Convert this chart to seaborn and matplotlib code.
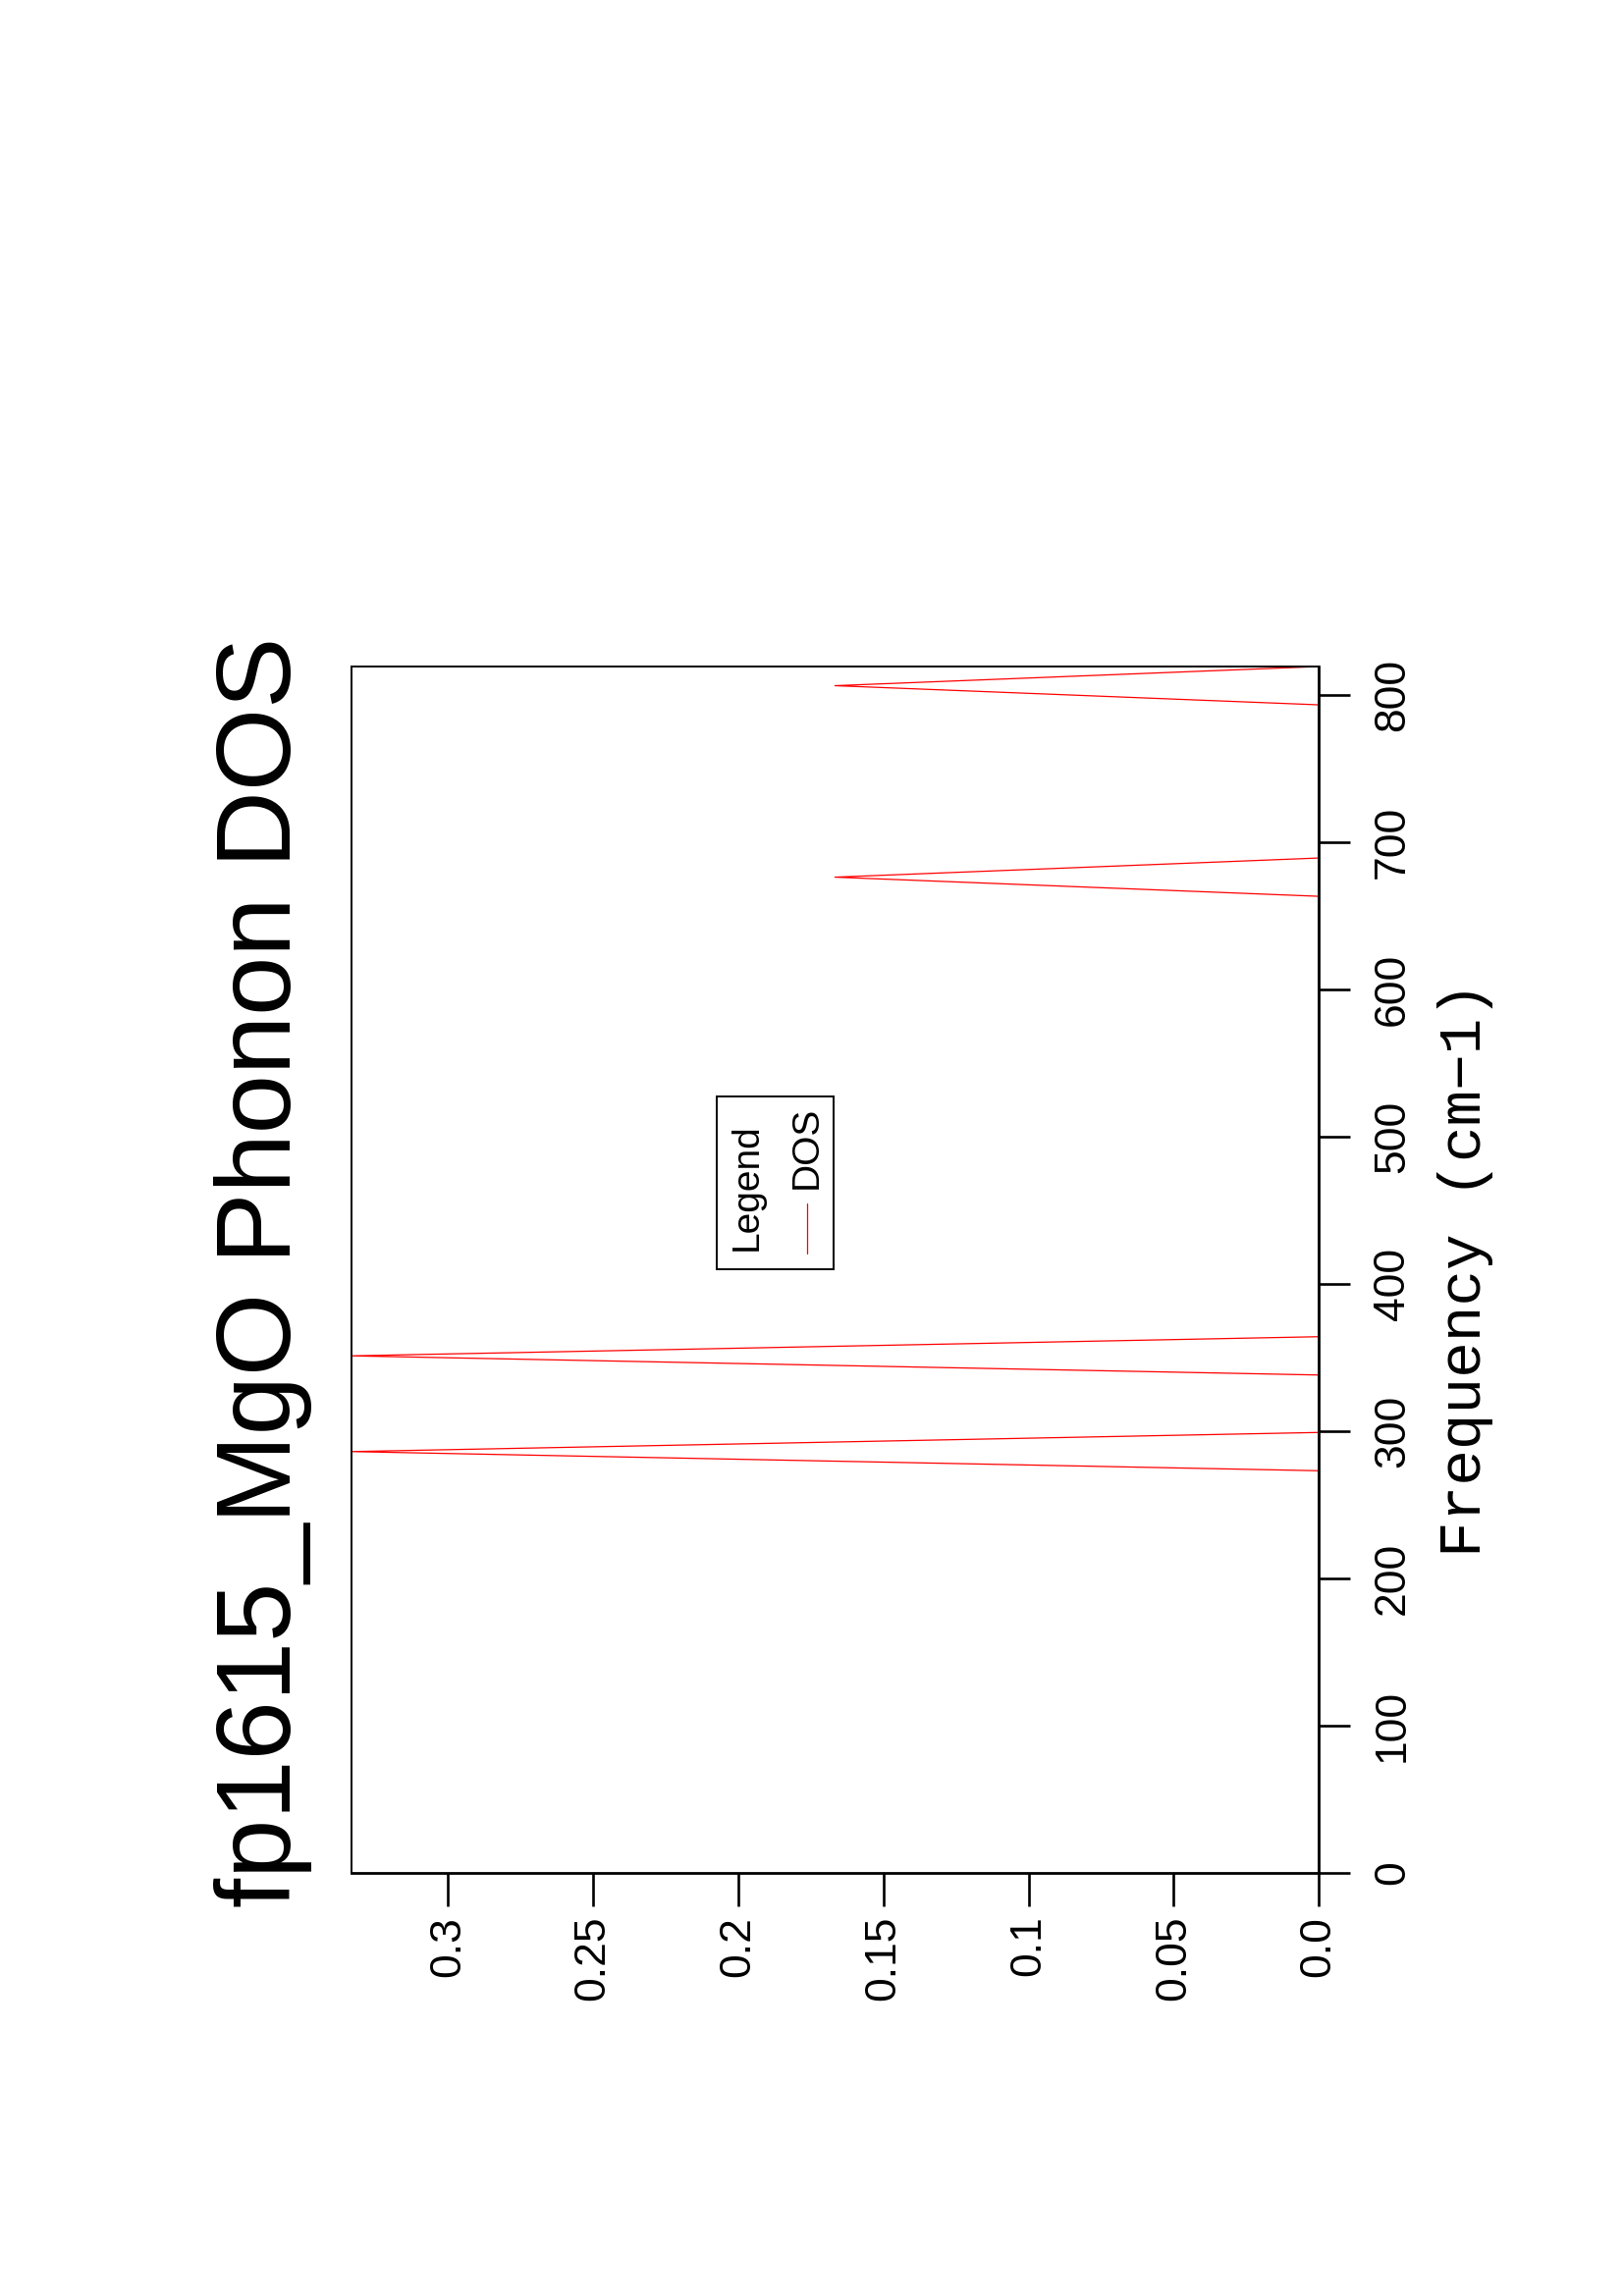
import matplotlib
matplotlib.use('Agg')
import matplotlib.pyplot as plt
from matplotlib.patches import Rectangle
from matplotlib.lines import Line2D
import seaborn as sns
import pandas as pd

sns.set_style("ticks")
plt.rcParams['font.family'] = ['Liberation Sans', 'DejaVu Sans']
for key in ['text.color', 'axes.labelcolor', 'xtick.color', 'ytick.color', 'axes.edgecolor']:
    plt.rcParams[key] = 'black'

# ── Data ────────────────────────────────────────────────────────────────────
freq = [0, 273, 286, 299, 338, 351, 364, 663, 676, 689, 793, 806, 819]
dos = [0, 0, 0.3333, 0, 0, 0.3333, 0, 0, 0.1667, 0, 0, 0.1667, 0]

dos_ticks = [0.0, 0.05, 0.1, 0.15, 0.2, 0.25, 0.3]
dos_labels = ["0.0", "0.05", "0.1", "0.15", "0.2", "0.25", "0.3"]
freq_ticks = [0, 100, 200, 300, 400, 500, 600, 700, 800]
freq_labels = [str(t) for t in freq_ticks]

title = "fp1615_MgO Phonon DOS"
freq_label = "Frequency (cm\u22121)"

df = pd.DataFrame({'freq': freq, 'dos': dos})

# ── Figure (page is rotated: frequency runs upward, DOS runs leftward) ─────
fig = plt.figure(figsize=(16.53, 23.39), dpi=100)
ax = fig.add_axes([0.2166, 0.1843, 0.5959, 0.5254])

sns.lineplot(data=df, x='dos', y='freq', sort=False, estimator=None,
             color='#ff0000', lw=0.9, ax=ax)
ax.set_xlim(max(dos), 0)
ax.set_ylim(0, max(freq))

for side in ['top', 'left']:
    ax.spines[side].set_linewidth(1.4)
for side in ['bottom', 'right']:
    ax.spines[side].set_linewidth(2.0)

# DOS axis (bottom of page)
ax.set_xticks(dos_ticks)
ax.set_xticklabels(dos_labels)
ax.tick_params(axis='x', direction='out', length=24.5, width=1.9, pad=7,
               labelsize=32, labelrotation=90)
ax.set_xlabel('')

# frequency axis (right of page)
ax.yaxis.tick_right()
ax.set_yticks(freq_ticks)
ax.set_yticklabels(freq_labels)
ax.tick_params(axis='y', direction='out', length=23, width=1.9, pad=16.5,
               labelsize=32, labelrotation=90)
for lab in ax.get_yticklabels():
    lab.set_va('center')

ax.yaxis.set_label_position('right')
ax.set_ylabel(freq_label, family=['Liberation Mono', 'DejaVu Sans Mono'],
              fontsize=44, rotation=90)
ax.yaxis.set_label_coords(1.1513, 0.5)
ax.yaxis.label.set_ha('center')
ax.yaxis.label.set_va('center')

ax.text(-0.0914, 0.498, title, rotation=90, ha='center', va='center',
        fontsize=78, transform=ax.transAxes)

# legend box, drawn rotated like the rest of the page
ax.add_patch(Rectangle((0.3777, 0.5004), 0.1208, 0.1432, transform=ax.transAxes,
                       fill=False, ec='black', lw=1.4, zorder=5))
ax.text(0.4091, 0.5690, 'Legend', rotation=90, ha='center', va='center',
        fontsize=28, transform=ax.transAxes)
ax.text(0.4711, 0.6010, 'DOS', rotation=90, ha='center', va='center',
        fontsize=28, transform=ax.transAxes)
ax.add_line(Line2D([0.4711, 0.4711], [0.5134, 0.5549], transform=ax.transAxes,
                   color='#ff0000', lw=0.9))

fig.savefig('out.png', dpi=100)
plt.close(fig)
